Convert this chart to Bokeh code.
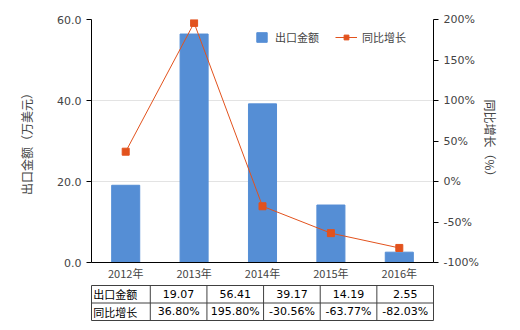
from bokeh.plotting import figure
from bokeh.models import (Range1d, LinearAxis, FixedTicker, Legend, LegendItem,
                          ColumnDataSource)
from bokeh.layouts import column
from bokeh.core.properties import value
from bokeh.embed import file_html
from bokeh.resources import INLINE

years = ["2012年", "2013年", "2014年", "2015年", "2016年"]
export_values = [19.07, 56.41, 39.17, 14.19, 2.55]
growth_values = [36.80, 195.80, -30.56, -63.77, -82.03]
left_ticks = [0, 20, 40, 60]
right_ticks = [-100, -50, 0, 50, 100, 150, 200]
row_names = ["出口金额", "同比增长"]

CJK = "Noto Sans CJK SC"
NUM = "DejaVu Sans"
BAR = "#558ED5"
LINE = "#E2521D"

xs = list(range(len(years)))
src = ColumnDataSource(dict(x=xs, v=export_values, g=growth_values))

p = figure(width=520, height=285, output_backend="svg", toolbar_location=None,
           x_range=Range1d(-0.5, 4.5), y_range=Range1d(0, 60),
           min_border_left=91, min_border_right=87, min_border_top=19,
           min_border_bottom=23)
p.extra_y_ranges = {"g": Range1d(-100, 200)}
p.outline_line_color = None
p.xgrid.visible = False
p.ygrid.grid_line_color = "#E3E3E3"
p.ygrid.ticker = FixedTicker(ticks=left_ticks)

bars = p.vbar(x="x", top="v", width=0.41, source=src, color=BAR)
ln = p.line(x="x", y="g", source=src, color=LINE, line_width=1, y_range_name="g")
sc = p.scatter(x="x", y="g", source=src, marker="square", size=7, color=LINE,
               y_range_name="g")

# left axis
ya = p.yaxis[0]
ya.ticker = FixedTicker(ticks=left_ticks)
ya.major_label_overrides = {t: "%.1f" % t for t in left_ticks}
ya.axis_label = "出口金额（万美元）"
ya.axis_label_text_font = CJK
ya.axis_label_text_font_size = "12px"
ya.axis_label_text_font_style = "normal"
ya.axis_label_standoff = 19
ya.major_label_text_font = NUM
ya.major_label_text_font_size = "11px"
ya.axis_line_color = "black"
ya.major_tick_line_color = "black"
ya.major_tick_out = 5
ya.major_tick_in = 0
ya.minor_tick_line_color = None

ra = LinearAxis(y_range_name="g", ticker=FixedTicker(ticks=right_ticks))
ra.major_label_overrides = {t: "%d%%" % t for t in right_ticks}
ra.axis_label = "同比增长（%）"
ra.axis_label_text_font = CJK
ra.axis_label_text_font_size = "12px"
ra.axis_label_text_font_style = "normal"
ra.axis_label_standoff = 0
ra.major_label_text_font = NUM
ra.major_label_text_font_size = "11px"
ra.axis_line_color = "black"
ra.major_tick_line_color = "black"
ra.major_tick_out = 5
ra.major_tick_in = 0
ra.minor_tick_line_color = None
p.add_layout(ra, "right")

xa = p.xaxis[0]
xa.ticker = FixedTicker(ticks=xs)
xa.major_label_overrides = {i: y for i, y in enumerate(years)}
xa.major_label_text_font = CJK
xa.major_label_text_font_size = "11px"
xa.axis_line_color = "black"
xa.major_tick_line_color = None
xa.major_tick_out = 0
xa.major_tick_in = 0
xa.minor_tick_line_color = None
xa.major_label_standoff = 2

legend1 = Legend(items=[LegendItem(label="出口金额", renderers=[bars])],
                 orientation="horizontal", location=(164, 217),
                 label_text_font=CJK, label_text_font_size="11px",
                 glyph_width=13, glyph_height=12, label_height=12,
                 spacing=0, padding=0, margin=0, label_standoff=7,
                 background_fill_alpha=0, border_line_color=None)
legend2 = Legend(items=[LegendItem(label="同比增长", renderers=[ln, sc])],
                 orientation="horizontal", location=(244, 217),
                 label_text_font=CJK, label_text_font_size="11px",
                 glyph_width=22, glyph_height=12, label_height=12,
                 spacing=0, padding=0, margin=0, label_standoff=5,
                 background_fill_alpha=0, border_line_color=None)
p.add_layout(legend1)
p.add_layout(legend2)

# table
unit = 68.4
first_w = 71.0 / unit
t = figure(width=520, height=45, output_backend="svg", toolbar_location=None,
           x_range=Range1d(-0.5 - first_w, 4.5), y_range=Range1d(0, 2),
           min_border_left=20, min_border_right=87, min_border_top=0,
           min_border_bottom=10)
t.axis.visible = False
t.grid.visible = False
t.outline_line_color = "#404040"
t.outline_line_width = 1
t.segment(x0=[-0.5 + i for i in range(5)], x1=[-0.5 + i for i in range(5)],
          y0=[0] * 5, y1=[2] * 5, line_color="#404040", line_width=1)
t.segment(x0=[-0.5 - first_w], x1=[4.5], y0=[1], y1=[1], line_color="#404040",
          line_width=1)
t.text(x=[-0.5 - first_w + 0.03] * 2, y=[1.5, 0.5], text=row_names,
       text_font=value(CJK), text_font_size="11px", text_baseline="middle",
       text_align="left")
t.text(x=xs, y=[1.5] * 5, text=["%.2f" % v for v in export_values],
       text_font=value(NUM), text_font_size="11px", text_baseline="middle",
       text_align="center")
t.text(x=xs, y=[0.5] * 5, text=["%.2f%%" % v for v in growth_values],
       text_font=value(NUM), text_font_size="11px", text_baseline="middle",
       text_align="center")

layout = column(p, t, spacing=0)
open("out.html", "w").write(file_html(layout, INLINE))
